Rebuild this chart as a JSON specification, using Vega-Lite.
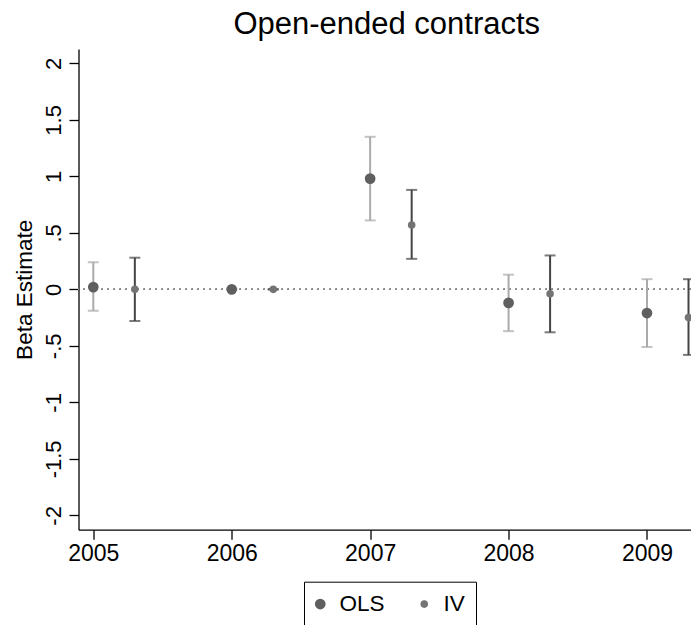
{
  "$schema": "https://vega.github.io/schema/vega-lite/v6.json",
  "autosize": {"type": "none"},
  "padding": {"left": 78.5, "top": 49, "right": 0, "bottom": 95.3},
  "width": 612.5,
  "height": 480.7,
  "title": {
    "text": "Open-ended contracts",
    "font": "Liberation Sans",
    "fontSize": 31,
    "fontWeight": "normal",
    "color": "black",
    "anchor": "middle",
    "dx": 2,
    "offset": 8
  },
  "data": {
    "values": [
      {"year": 2005, "model": "OLS", "est": 0.02, "lo": -0.19, "hi": 0.24},
      {"year": 2005.3, "model": "IV", "est": 0.0, "lo": -0.28, "hi": 0.28},
      {"year": 2006, "model": "OLS", "est": 0.0, "lo": 0.0, "hi": 0.0},
      {"year": 2006.3, "model": "IV", "est": 0.0, "lo": 0.0, "hi": 0.0},
      {"year": 2007, "model": "OLS", "est": 0.98, "lo": 0.61, "hi": 1.35},
      {"year": 2007.3, "model": "IV", "est": 0.57, "lo": 0.27, "hi": 0.88},
      {"year": 2008, "model": "OLS", "est": -0.12, "lo": -0.37, "hi": 0.13},
      {"year": 2008.3, "model": "IV", "est": -0.04, "lo": -0.38, "hi": 0.3},
      {"year": 2009, "model": "OLS", "est": -0.21, "lo": -0.51, "hi": 0.09},
      {"year": 2009.3, "model": "IV", "est": -0.25, "lo": -0.58, "hi": 0.09}
    ]
  },
  "encoding": {
    "x": {
      "field": "year",
      "type": "quantitative",
      "scale": {"domain": [2004.893, 2009.318], "nice": false, "zero": false},
      "axis": {
        "title": null,
        "values": [2005, 2006, 2007, 2008, 2009],
        "format": "d",
        "grid": false,
        "labelFontSize": 23,
        "labelPadding": 3,
        "tickSize": 9.5
      }
    }
  },
  "layer": [
    {
      "mark": {"type": "rule", "color": "#888888", "strokeWidth": 1.3, "strokeDash": [1.5, 4.5]},
      "encoding": {"y": {"datum": 0, "type": "quantitative", "title": "Beta Estimate"}, "x": null}
    },
    {
      "transform": [{"filter": "datum.model === 'OLS'"}],
      "mark": {"type": "errorbar", "color": "#aaaaaa", "thickness": 2, "ticks": {"size": 11, "thickness": 2}},
      "encoding": {
        "y": {"field": "lo", "type": "quantitative", "title": "Beta Estimate"},
        "y2": {"field": "hi"}
      }
    },
    {
      "transform": [{"filter": "datum.model === 'IV'"}],
      "mark": {"type": "errorbar", "color": "#444444", "thickness": 2, "ticks": {"size": 11, "thickness": 2}},
      "encoding": {
        "y": {"field": "lo", "type": "quantitative", "title": "Beta Estimate"},
        "y2": {"field": "hi"}
      }
    },
    {
      "mark": {"type": "point", "filled": true, "opacity": 1, "shape": "circle"},
      "encoding": {
        "y": {
          "field": "est",
          "type": "quantitative",
          "title": "Beta Estimate",
          "scale": {"domain": [-2.127, 2.127], "nice": false},
          "axis": {
            "values": [-2, -1.5, -1, -0.5, 0, 0.5, 1, 1.5, 2],
            "labelExpr": "replace(toString(datum.value), '0.', '.')",
            "labelAngle": 270,
            "labelFontSize": 22,
            "labelPadding": 4,
            "tickSize": 9.5,
            "grid": false,
            "titleFontSize": 22.5,
            "titlePadding": 6
          }
        },
        "color": {
          "field": "model",
          "type": "nominal",
          "scale": {"domain": ["OLS", "IV"], "range": ["#5f5f5f", "#747474"]},
          "legend": {"title": null}
        },
        "size": {
          "field": "model",
          "type": "nominal",
          "scale": {"domain": ["OLS", "IV"], "range": [115, 58]},
          "legend": {"title": null}
        }
      }
    }
  ],
  "config": {
    "font": "Liberation Sans",
    "view": {"stroke": null},
    "axis": {
      "domainColor": "black",
      "domainWidth": 1.3,
      "tickColor": "black",
      "tickWidth": 1.3,
      "labelColor": "black",
      "titleColor": "black",
      "labelFont": "Liberation Sans",
      "titleFont": "Liberation Sans",
      "titleFontWeight": "normal"
    },
    "legend": {
      "orient": "none",
      "legendX": 225.5,
      "legendY": 532.7,
      "direction": "horizontal",
      "strokeColor": "black",
      "padding": 11,
      "labelFontSize": 22.5,
      "labelFont": "Liberation Sans",
      "labelColor": "black",
      "labelOffset": 8,
      "symbolOffset": -6,
      "columnPadding": 34,
      "symbolStrokeWidth": 0
    }
  }
}
